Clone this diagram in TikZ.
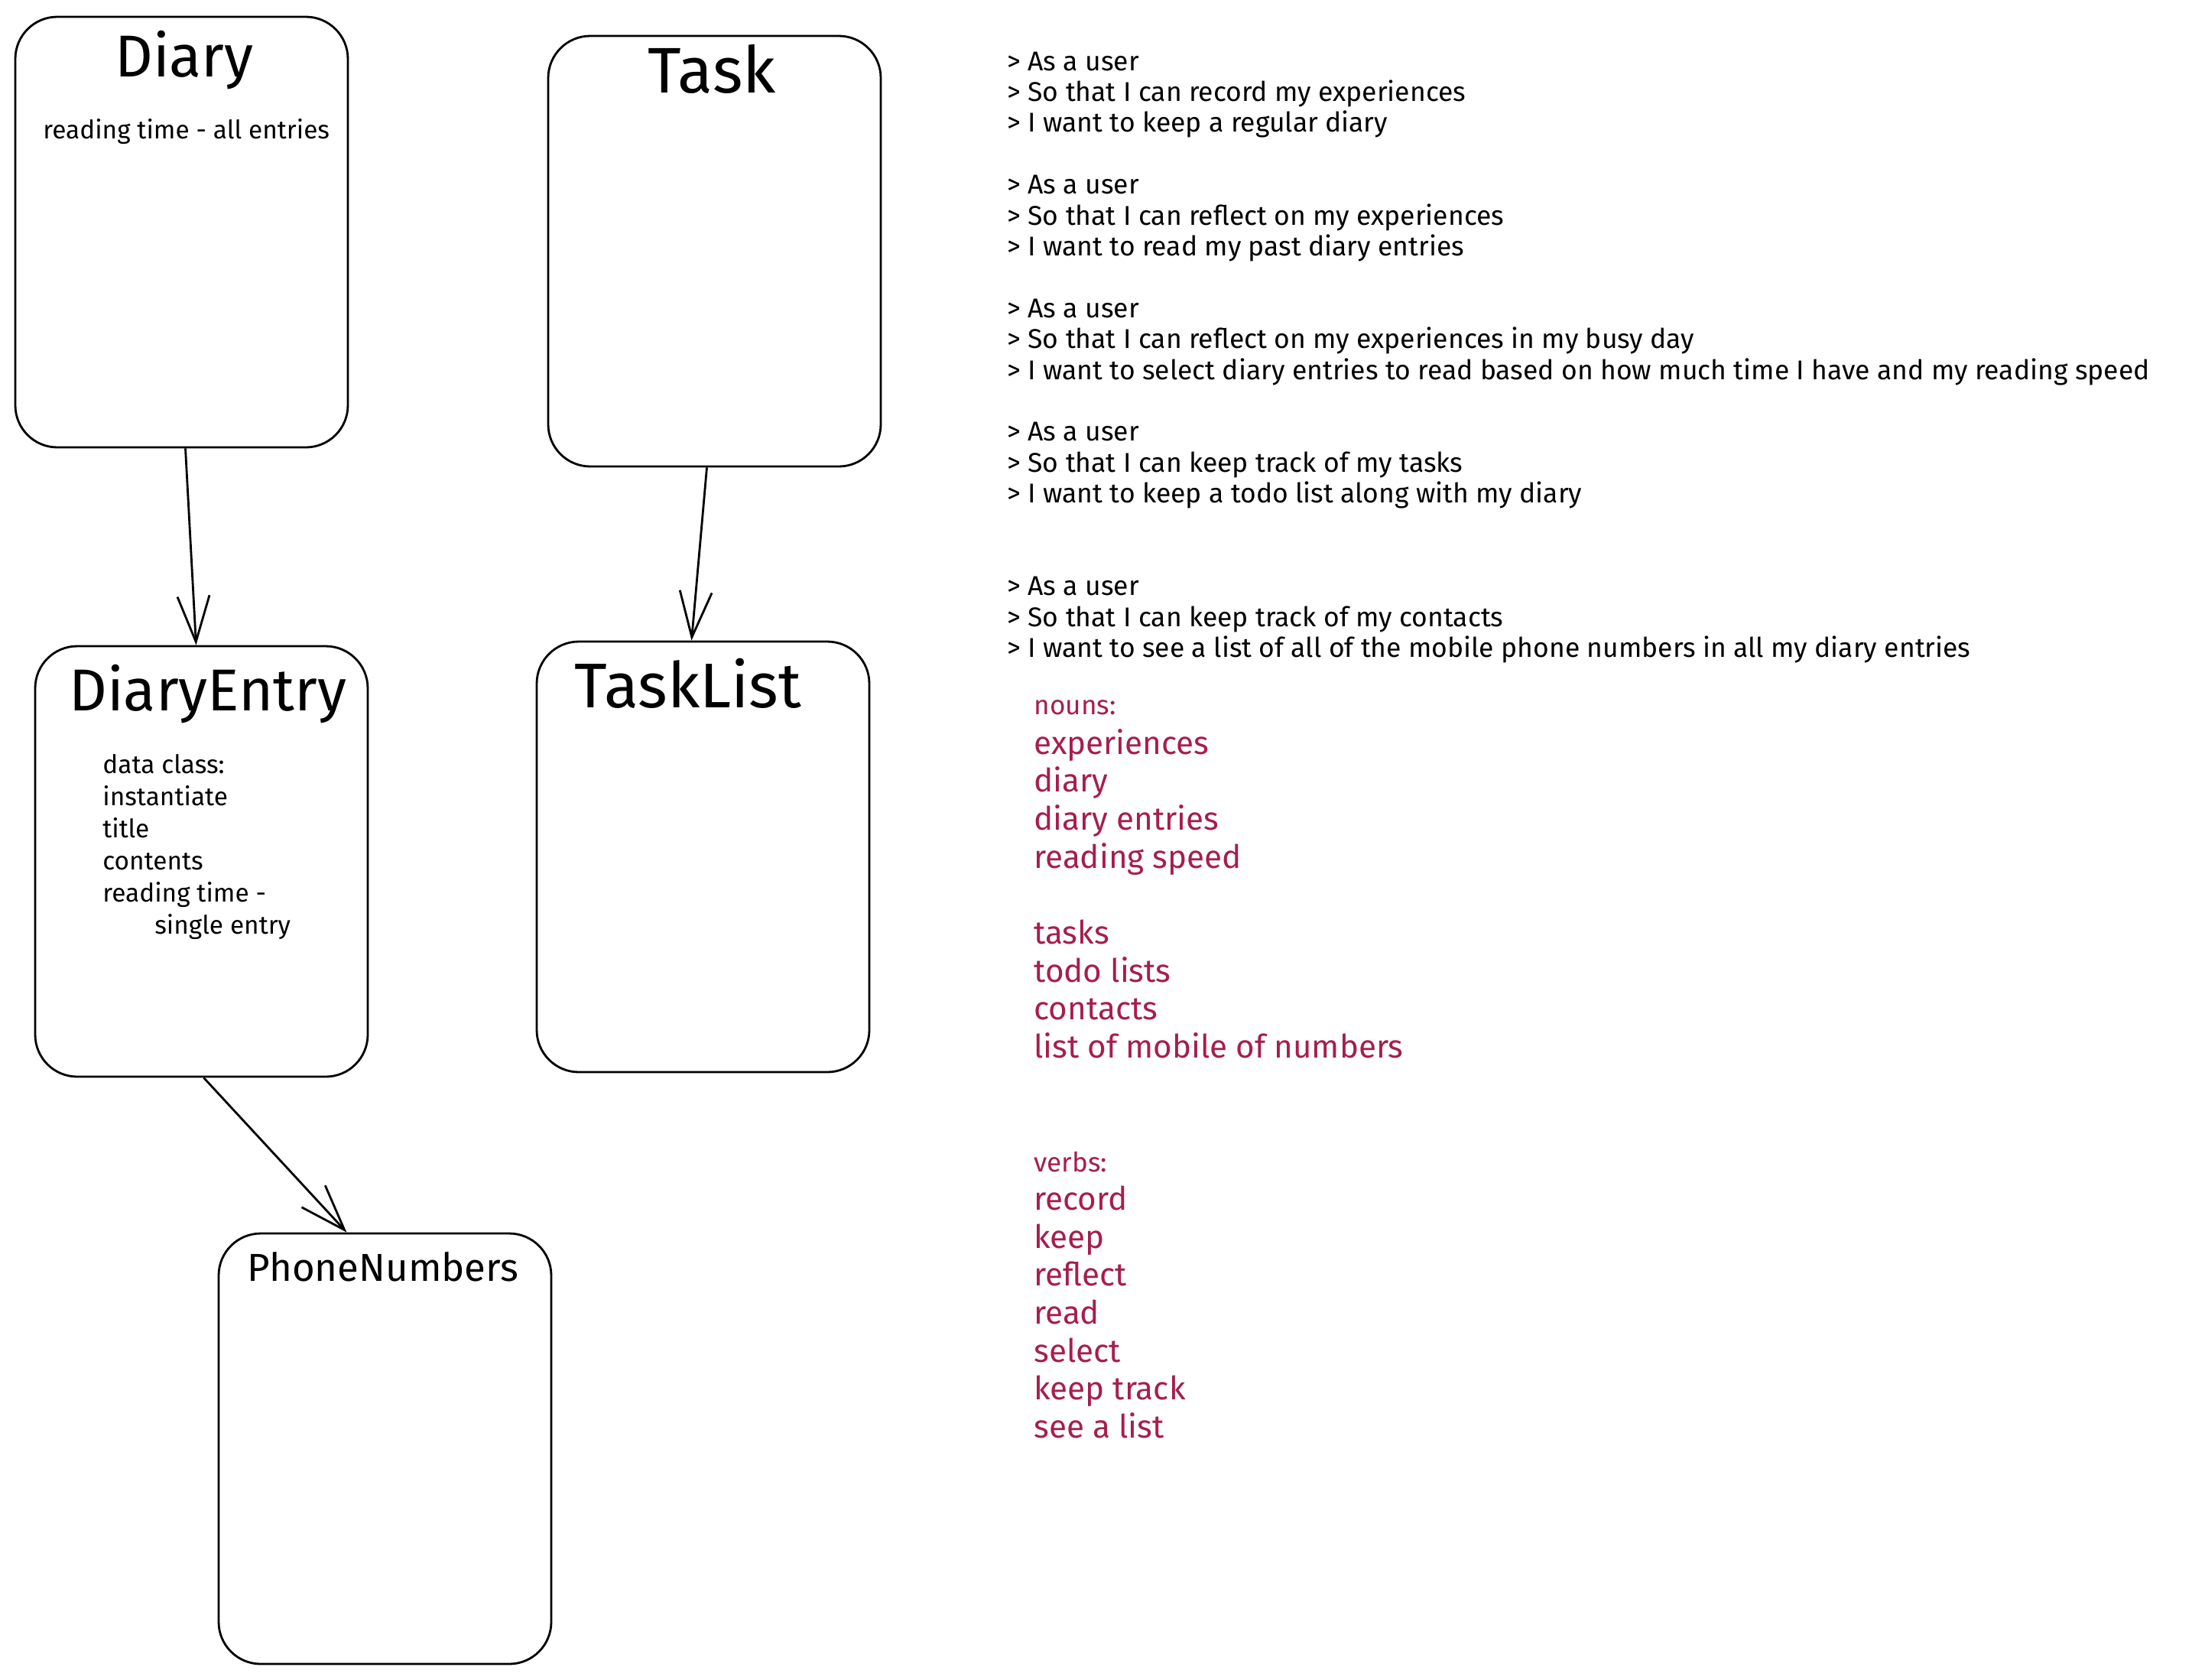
\documentclass[tikz,border=0pt]{standalone}
\usepackage{fontspec}
\setmainfont{Fira Sans}
\usetikzlibrary{arrows.meta,positioning}
\definecolor{noteRed}{HTML}{A61E4D}

\begin{document}
\begin{tikzpicture}[->,>={Straight Barb[length=6mm,width=4.2mm]},thick,
  class node/.style={draw,rounded corners=0.55cm,minimum width=4.35cm,minimum height=5.63cm,inner sep=0pt},
  title/.style={anchor=base,inner sep=0pt,font=\fontsize{22}{26}\selectfont},
  attr/.style={anchor=base west,inner sep=0pt,font=\fontsize{9.5}{12}\selectfont},
  story/.style={anchor=base west,inner sep=0pt,font=\fontsize{10.1}{12}\selectfont},
  word/.style={anchor=base west,inner sep=0pt,text=noteRed,font=\fontsize{12}{14}\selectfont},
  label word/.style={word,font=\fontsize{10}{12}\selectfont}]
  \fill[white,-] (0,0) rectangle (28.67,-21.96);
  \useasboundingbox (0,0) rectangle (28.67,-21.96);

  % classes
  \node[class node] (diary) at (2.375,-3.035) {};
  \node[class node] (task) at (9.345,-3.285) {};
  \node[class node] (entry) at (2.635,-11.265) {};
  \node[class node] (tasklist) at (9.195,-11.205) {};
  \node[class node] (phone) at (5.035,-18.945) {};

  \node[title] (diarytitle) at (2.41,-1.00) {Diary};
  \node[title,font=\fontsize{24}{28}\selectfont] (tasktitle) at (9.31,-1.21) {Task};
  \node[title] (entrytitle) at (2.72,-9.29) {DiaryEntry};
  \node[title,font=\fontsize{23.5}{28}\selectfont] (tasklisttitle) at (9.00,-9.25) {TaskList};
  \node[title,font=\fontsize{14.5}{18}\selectfont] (phonetitle) at (5.01,-16.75) {PhoneNumbers};

  \node[attr] (diaryattr) at (0.55,-1.81) {reading time - all entries};
  \foreach \y/\txt [count=\i] in {10.11/data class:,10.53/instantiate,10.95/title,11.37/contents,11.79/reading time -}
    \node[attr] (entryattr\i) at (1.33,-\y) {\txt};
  \node[attr] (entryattr6) at (2.01,-12.21) {single entry};

  \path ([xshift=0.05cm]diary.south) edge ([xshift=-0.07cm]entry.north)
    ([xshift=-0.1cm]task.south) edge ([xshift=-0.15cm]tasklist.north)
    ([xshift=0.03cm]entry.south) edge ([xshift=-0.5cm]phone.north);

  % user stories
  \foreach \k/\txt [count=\i] in {0/{> As a user},1/{> So that I can record my experiences},2/{> I want to keep a regular diary},
    4/{> As a user},5/{> So that I can reflect on my experiences},6/{> I want to read my past diary entries},
    8/{> As a user},9/{> So that I can reflect on my experiences in my busy day},10/{> I want to select diary entries to read based on how much time I have and my reading speed},
    12/{> As a user},13/{> So that I can keep track of my tasks},14/{> I want to keep a todo list along with my diary},
    17/{> As a user},18/{> So that I can keep track of my contacts},19/{> I want to see a list of all of the mobile phone numbers in all my diary entries}}
    \node[story] (story\i) at (13.16,{-0.92-0.404*\k}) {\txt};

  % nouns and verbs
  \node[label word] (nouns) at (13.51,-9.34) {nouns:};
  \node[label word] (verbs) at (13.51,-15.32) {verbs:};
  \foreach \k/\txt [count=\i] in {0/experiences,1/diary,2/diary entries,3/reading speed,5/tasks,6/todo lists,7/contacts,8/list of mobile of numbers,
    12/record,13/keep,14/reflect,15/read,16/select,17/keep track,18/see a list}
    \node[word] (word\i) at (13.51,{-9.86-0.497*\k}) {\txt};
\end{tikzpicture}
\end{document}
